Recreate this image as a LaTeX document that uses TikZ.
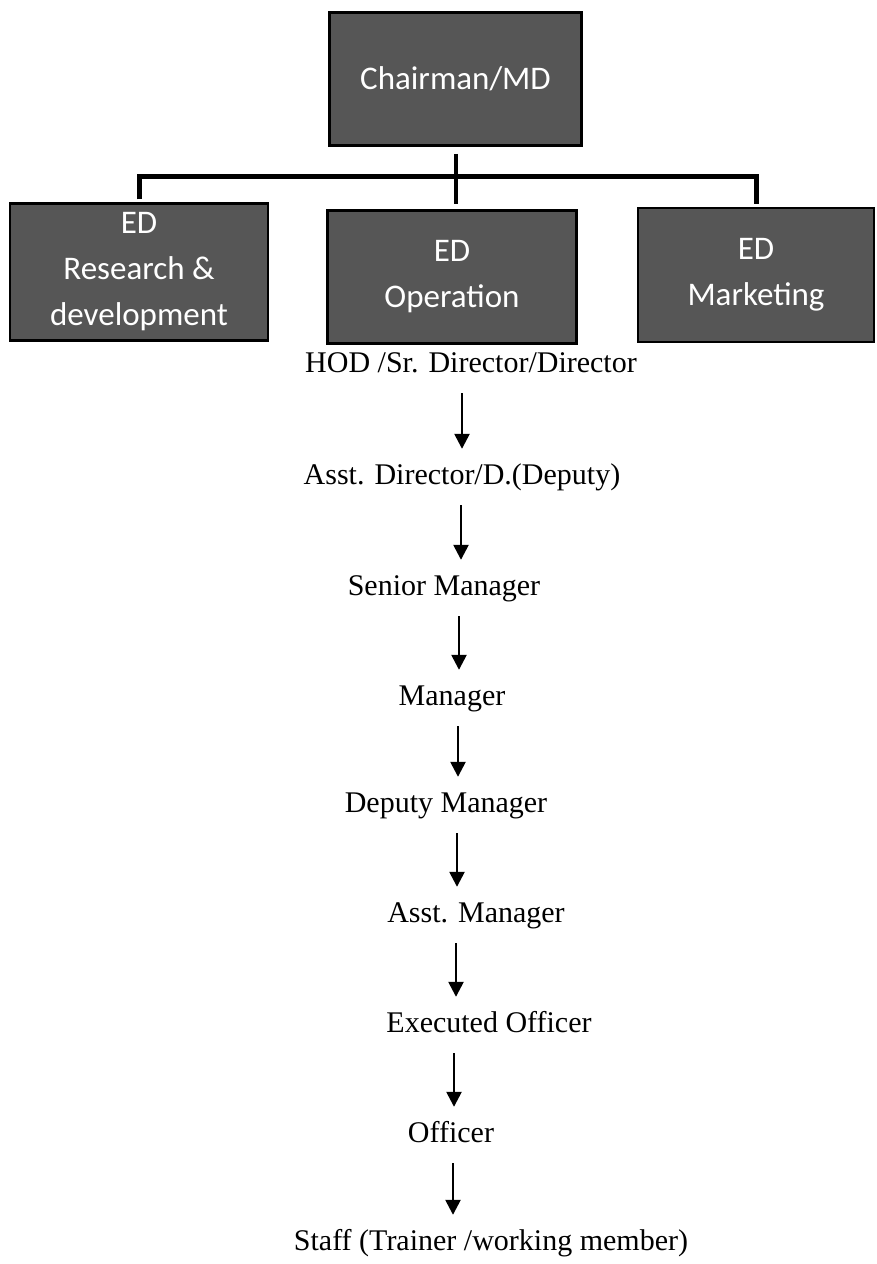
\documentclass[tikz,border=0pt]{standalone}
\usepackage{fontspec}
\setmainfont{Liberation Serif}
\newfontfamily\boxfont{Carlito}
\usetikzlibrary{arrows.meta,calc}
\definecolor{boxgray}{RGB}{86,86,86}

\begin{document}
\begin{tikzpicture}[x=1pt,y=-1pt,
	edbox/.style={draw=black,line width=2.5pt,fill=boxgray,text=white,align=center,
		font=\boxfont\fontsize{33}{46}\selectfont,inner sep=0pt},
	rank/.style={font=\fontsize{30}{36}\selectfont,text height=21pt,text depth=7pt,
		inner xsep=0pt,inner ysep=14pt},
	link/.style={line width=4pt},
	down/.style={line width=2.5pt,-{Triangle[width=15pt,length=15pt]}}]
	\useasboundingbox (0,0) rectangle (877,1264);
	%\draw[very thin,color=gray] (0,0) grid[step=50] (877,1264);
	\node[edbox,minimum width=252pt,minimum height=133pt] (chair) at (455.5,79) {Chairman/MD};
	\node[edbox,minimum width=258pt,minimum height=137pt] (rd) at (139,272) {ED\\Research \&\\development};
	\node[edbox,minimum width=249pt,minimum height=133pt] (op) at (452,277) {ED\\Operation};
	\node[edbox,minimum width=236pt,minimum height=134pt] (mk) at (756,275) {ED\\Marketing};
	\coordinate (bar) at (455.5,176);
	\draw[link] ($(chair.south)+(0,7)$) -- (bar);
	\draw[link,line width=5pt] ($(rd.north)+(0,-3)$) |- (bar) -| ($(mk.north)+(0,-3)$);
	\draw[link] (bar) -- ($(op.north -| bar)+(0,-5)$);
	\node[rank] (hod) at (471,365) {HOD /Sr. Director/Director};
	\node[rank] (adir) at (462,477) {Asst. Director/D.(Deputy)};
	\node[rank] (smgr) at (444,588) {Senior Manager};
	\node[rank] (mgr) at (452,698) {Manager};
	\node[rank] (dmgr) at (446,805) {Deputy Manager};
	\node[rank] (amgr) at (476,915) {Asst. Manager};
	\node[rank] (exo) at (489,1025) {Executed Officer};
	\node[rank] (off) at (451,1135) {Officer};
	\node[rank] (staff) at (491,1243) {Staff (Trainer /working member)};
	\foreach \a/\b/\x in {hod/adir/462,adir/smgr/461,smgr/mgr/459,mgr/dmgr/458,
		dmgr/amgr/457,amgr/exo/456,exo/off/454,off/staff/453}
		\draw[down] (\a.south -| \x,0) -- (\b.north -| \x,0);
\end{tikzpicture}
\end{document}
